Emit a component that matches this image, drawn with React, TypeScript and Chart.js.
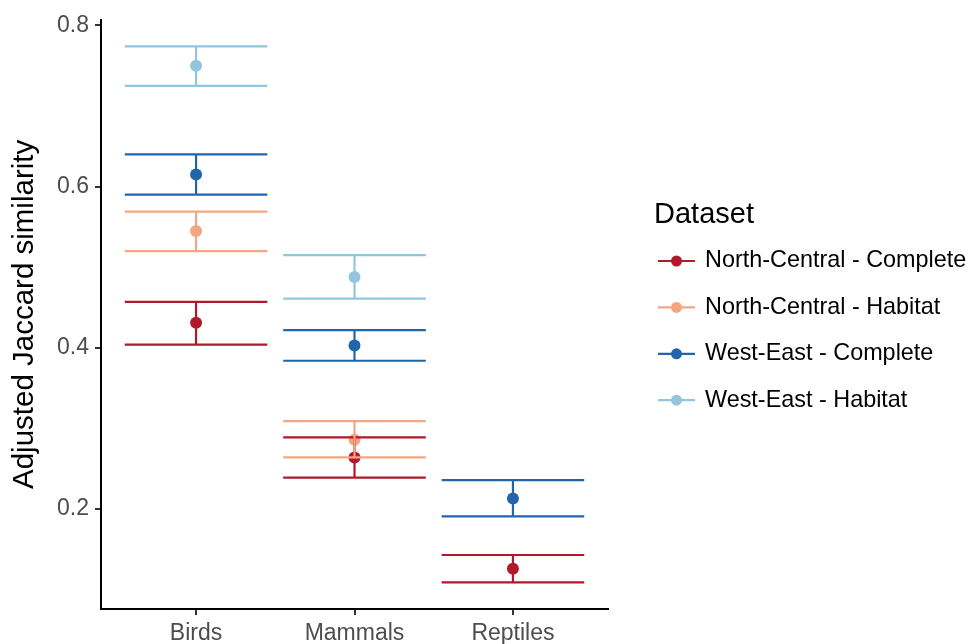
import React, { useEffect, useRef } from 'react';
import { Chart, registerables } from 'chart.js';

Chart.register(...registerables);

const FONT = '"Liberation Sans", Arial, Helvetica, sans-serif';

const CATEGORIES = ['Birds', 'Mammals', 'Reptiles'];
const Y_TICKS = [0.2, 0.4, 0.6, 0.8];
const Y_MIN = 0.076;
const Y_MAX = 0.807;

const SERIES_NAMES = [
  'North-Central - Complete',
  'North-Central - Habitat',
  'West-East - Complete',
  'West-East - Habitat',
];
const SERIES_COLORS = ['#B2182B', '#F4A582', '#2166AC', '#92C5DE'];

// values per category: Birds, Mammals, Reptiles
const NC_COMPLETE_MEAN = [0.431, 0.264, 0.126];
const NC_COMPLETE_LOW = [0.404, 0.239, 0.109];
const NC_COMPLETE_HIGH = [0.457, 0.289, 0.143];

const NC_HABITAT_MEAN = [0.545, 0.286, null];
const NC_HABITAT_LOW = [0.52, 0.264, null];
const NC_HABITAT_HIGH = [0.569, 0.309, null];

const WE_COMPLETE_MEAN = [0.615, 0.403, 0.213];
const WE_COMPLETE_LOW = [0.59, 0.384, 0.191];
const WE_COMPLETE_HIGH = [0.64, 0.422, 0.236];

const WE_HABITAT_MEAN = [0.75, 0.488, null];
const WE_HABITAT_LOW = [0.725, 0.461, null];
const WE_HABITAT_HIGH = [0.774, 0.515, null];

const MEANS = [NC_COMPLETE_MEAN, NC_HABITAT_MEAN, WE_COMPLETE_MEAN, WE_HABITAT_MEAN];
const LOWS = [NC_COMPLETE_LOW, NC_HABITAT_LOW, WE_COMPLETE_LOW, WE_HABITAT_LOW];
const HIGHS = [NC_COMPLETE_HIGH, NC_HABITAT_HIGH, WE_COMPLETE_HIGH, WE_HABITAT_HIGH];

const CAP_HALF = 0.45;

function buildDatasets() {
  const pointSets: any[] = [];
  const barSets: any[] = [];
  SERIES_NAMES.forEach((name, s) => {
    const color = SERIES_COLORS[s];
    const pts: any[] = [];
    const segs: any[] = [];
    CATEGORIES.forEach((_, c) => {
      const m = MEANS[s][c];
      const lo = LOWS[s][c];
      const hi = HIGHS[s][c];
      const x = c + 1;
      if (m !== null) pts.push({ x, y: m });
      if (lo !== null && hi !== null) {
        segs.push({ x: x - CAP_HALF, y: hi }, { x: x + CAP_HALF, y: hi }, { x: x, y: null });
        segs.push({ x: x - CAP_HALF, y: lo }, { x: x + CAP_HALF, y: lo }, { x: x, y: null });
        segs.push({ x: x, y: lo }, { x: x, y: hi }, { x: x, y: null });
      }
    });
    pointSets.push({
      label: name,
      data: pts,
      backgroundColor: color,
      borderColor: color,
      borderWidth: 0,
      pointRadius: 6,
      pointHoverRadius: 6,
      showLine: false,
      order: 20 - s,
    });
    barSets.push({
      label: name + ' (error)',
      data: segs,
      borderColor: color,
      backgroundColor: color,
      borderWidth: 2.2,
      pointRadius: 0,
      pointHoverRadius: 0,
      showLine: true,
      spanGaps: false,
      borderCapStyle: 'butt',
      tension: 0,
      order: 10 - s,
    });
  });
  return [...pointSets, ...barSets];
}

const legendPlugin = {
  id: 'ggLegend',
  afterDraw(chart: any) {
    const ctx = chart.ctx;
    const area = chart.chartArea;
    const titleX = area.right + 46;
    const keyX = area.right + 50;
    const keyW = 37;
    const textX = area.right + 97;
    ctx.save();
    ctx.textAlign = 'left';
    ctx.textBaseline = 'middle';
    ctx.fillStyle = '#000000';
    ctx.font = `29px ${FONT}`;
    ctx.fillText('Dataset', titleX, 215);
    ctx.font = `23.4px ${FONT}`;
    SERIES_NAMES.forEach((name, i) => {
      const y = 261 + i * 46.4;
      ctx.strokeStyle = SERIES_COLORS[i];
      ctx.lineWidth = 2.2;
      ctx.beginPath();
      ctx.moveTo(keyX, y);
      ctx.lineTo(keyX + keyW, y);
      ctx.stroke();
      ctx.fillStyle = SERIES_COLORS[i];
      ctx.beginPath();
      ctx.arc(keyX + keyW / 2, y, 5.5, 0, Math.PI * 2);
      ctx.fill();
      ctx.fillStyle = '#000000';
      ctx.fillText(name, textX, y);
    });
    ctx.restore();
  },
};

export default function App() {
  const ref = useRef<HTMLCanvasElement | null>(null);
  useEffect(() => {
    document.body.style.margin = '0';
    const canvas = ref.current;
    if (!canvas) return;
    Chart.defaults.font.family = FONT;
    const chart = new Chart(canvas, {
      type: 'scatter',
      data: { datasets: buildDatasets() },
      options: {
        animation: false,
        responsive: false,
        devicePixelRatio: 1,
        layout: { padding: { top: 17, right: 362, bottom: 0, left: 0 } },
        plugins: {
          legend: { display: false },
          tooltip: { enabled: false },
        },
        scales: {
          x: {
            type: 'linear',
            min: 0.4,
            max: 3.6,
            afterBuildTicks: (s: any) => {
              s.ticks = CATEGORIES.map((_, i) => ({ value: i + 1 }));
            },
            afterFit: (s: any) => {
              s.height = 35;
            },
            ticks: {
              autoSkip: false,
              maxRotation: 0,
              padding: 5,
              color: '#4D4D4D',
              font: { size: 23, family: FONT },
              callback: (v: any) => CATEGORIES[Math.round(Number(v)) - 1] ?? '',
            },
            grid: {
              display: true,
              drawOnChartArea: false,
              drawTicks: true,
              tickLength: 6,
              color: '#333333',
              lineWidth: 2,
            },
            border: { display: true, color: '#000000', width: 2 },
          },
          y: {
            type: 'linear',
            min: Y_MIN,
            max: Y_MAX,
            afterBuildTicks: (s: any) => {
              s.ticks = Y_TICKS.map((v) => ({ value: v }));
            },
            afterFit: (s: any) => {
              s.width = 101;
            },
            ticks: {
              padding: 6,
              color: '#4D4D4D',
              font: { size: 23, family: FONT },
              callback: (v: any) => Number(v).toFixed(1),
            },
            grid: {
              display: true,
              drawOnChartArea: false,
              drawTicks: true,
              tickLength: 6,
              color: '#333333',
              lineWidth: 2,
            },
            border: { display: true, color: '#000000', width: 2 },
            title: {
              display: true,
              text: 'Adjusted Jaccard similarity',
              color: '#000000',
              font: { size: 29.5, family: FONT },
              padding: { top: 7, bottom: 0 },
            },
          },
        },
      },
      plugins: [legendPlugin],
    } as any);
    return () => chart.destroy();
  }, []);
  return (
    <canvas
      ref={ref}
      width={970}
      height={644}
      style={{ display: 'block', width: '970px', height: '644px' }}
    />
  );
}
